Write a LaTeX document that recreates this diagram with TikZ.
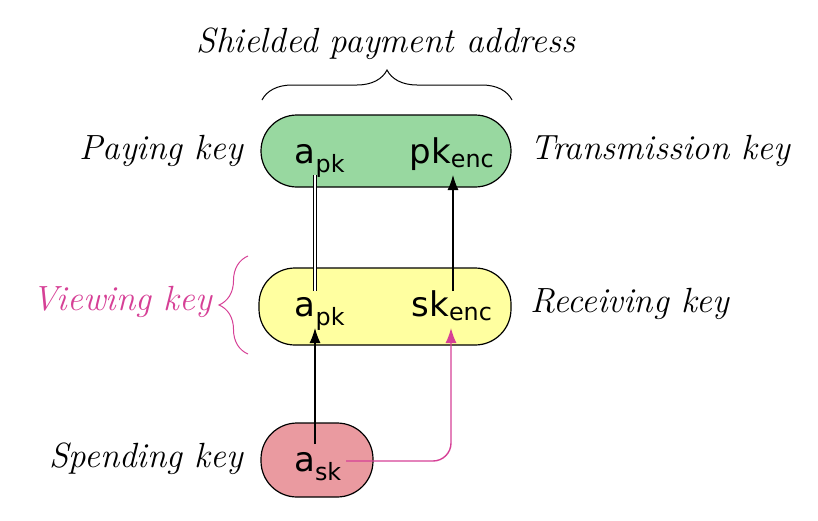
\documentclass[tikz,border=0pt]{standalone}
\usepackage{fontspec}
\newfontfamily\boxfont{DejaVu Sans}
\usetikzlibrary{arrows.meta,decorations.pathreplacing}
\definecolor{kgreen}{RGB}{152,216,160}
\definecolor{kyellow}{RGB}{255,255,160}
\definecolor{kred}{RGB}{234,154,160}
\definecolor{kpink}{RGB}{214,64,150}
\tikzset{
  keybox/.style={draw=black, line width=1.2pt, rounded corners=36pt, inner sep=0pt},
  keytxt/.style={font=\boxfont\fontsize{34}{40}\selectfont, inner sep=0pt, anchor=base},
  lbl/.style={font=\itshape\fontsize{35}{40}\selectfont, inner sep=0pt},
  conn/.style={line width=1.1pt, -{Latex[length=15pt,width=11pt]}},
}
\begin{document}
\begin{tikzpicture}[x=1pt,y=-1pt]
\useasboundingbox (0,0) rectangle (818,520);
% boxes
\path[keybox, fill=kgreen] (261,115) rectangle (511,187);
\path[keybox, fill=kyellow] (259,268) rectangle (511,345);
\path[keybox, fill=kred] (261,423) rectangle (373,497);
\node[keybox, draw=none, minimum width=250pt, minimum height=72pt] (pay) at (386,151) {};
\node[keybox, draw=none, minimum width=252pt, minimum height=77pt] (view) at (385,306.5) {};
\node[keybox, draw=none, minimum width=112pt, minimum height=74pt] (spend) at (317,460) {};
% texts
\node[keytxt] (apk1) at (320,163) {a\textsubscript{pk}};
\node[keytxt] (pkenc) at (452,163) {pk\textsubscript{enc}};
\node[keytxt] (apk2) at (320,316) {a\textsubscript{pk}};
\node[keytxt] (skenc) at (452,316) {sk\textsubscript{enc}};
\node[keytxt] (ask) at (318,471) {a\textsubscript{sk}};
% connectors
\coordinate (d1) at (315,175);
\coordinate (d2) at (315,291);
\draw[line width=0.8pt, double distance=2.5pt] (d1) -- (d2);
\coordinate (s1) at (453,291);
\coordinate (s2) at (453,175);
\draw[conn] (s1) -- (s2);
\coordinate (a1) at (315,444);
\coordinate (a2) at (315,328);
\draw[conn] (a1) -- (a2);
\coordinate (p1) at (346,461);
\coordinate (p2) at (451,328);
\draw[conn, draw=kpink, line width=1.4pt, rounded corners=18pt] (p1) -- (451,461) -- (p2);
% labels
\node[lbl, anchor=east] (l1) at (243,151) {Paying key};
\node[lbl, anchor=west] (l2) at (530,151) {Transmission key};
\node[lbl, anchor=east, text=kpink] (l3) at (212,302) {Viewing key};
\node[lbl, anchor=west] (l4) at (530,304) {Receiving key};
\node[lbl, anchor=east] (l5) at (243,459) {Spending key};
\node[lbl] (l6) at (386,44) {Shielded payment address};
% braces
\draw[line width=1pt, decorate, decoration={brace, amplitude=30pt}] (262,100) -- (512,100);
\draw[line width=1pt, draw=kpink, decorate, decoration={brace, amplitude=29pt}] (248,354) -- (248,256);
\end{tikzpicture}
\end{document}
